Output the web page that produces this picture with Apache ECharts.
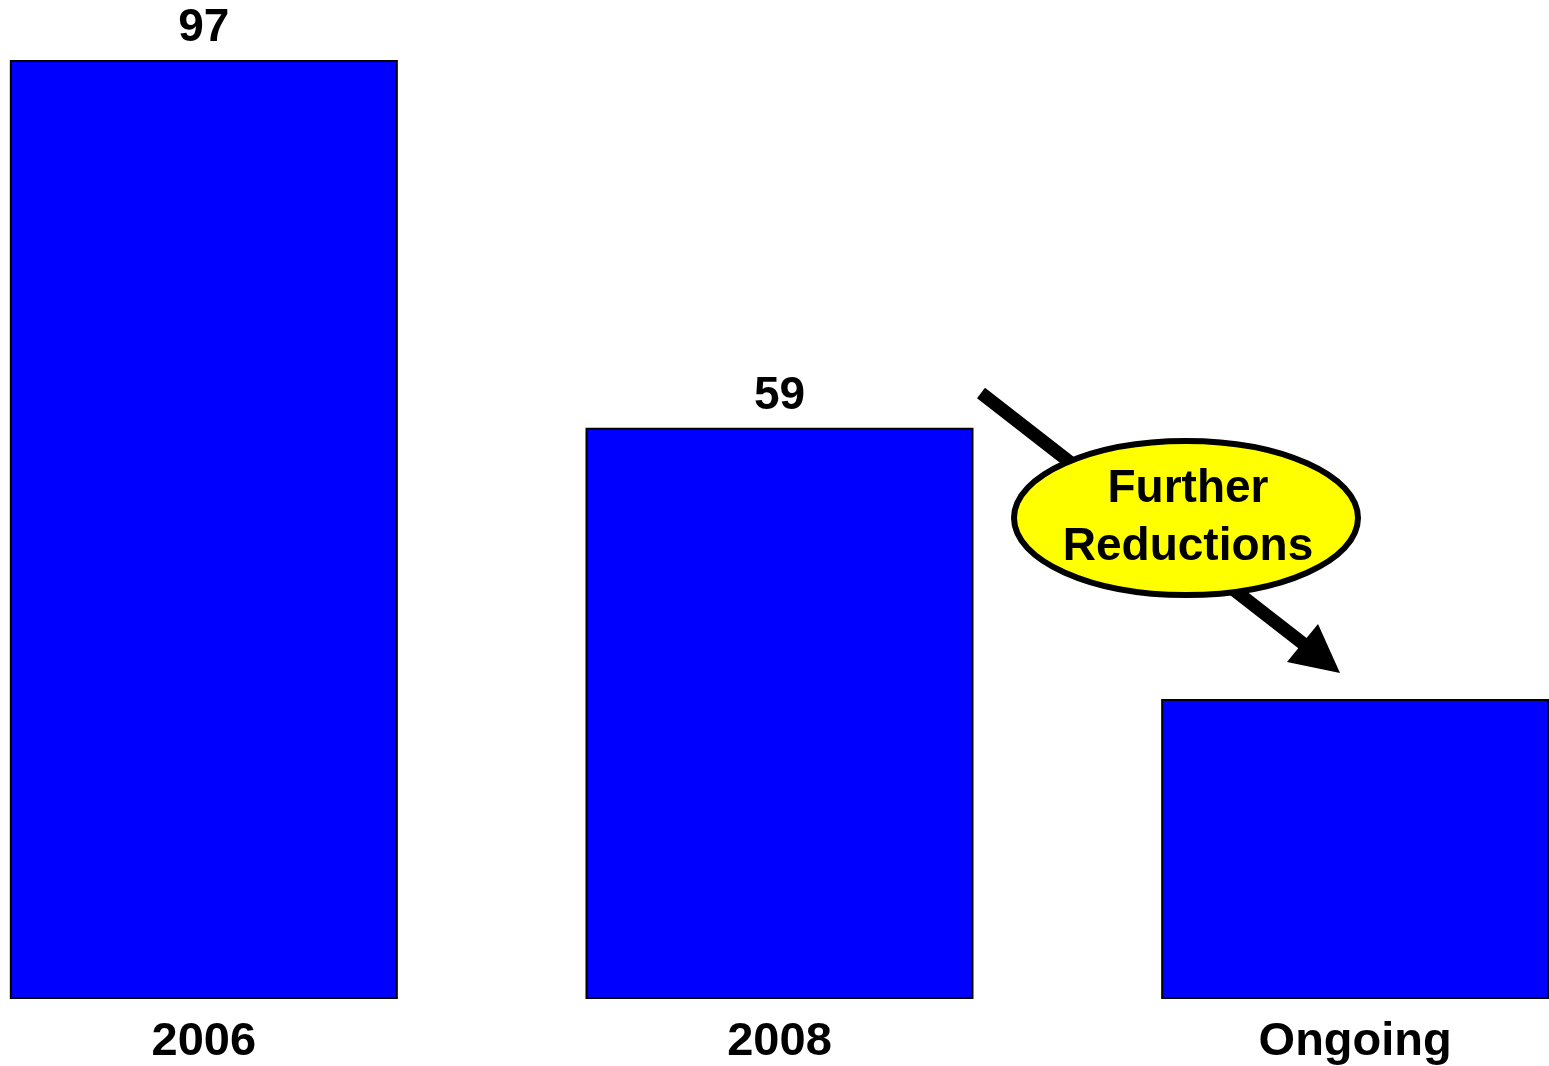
<!DOCTYPE html>
<html>
<head>
<meta charset="utf-8">
<title>Reductions</title>
<script src="https://cdn.jsdelivr.net/npm/echarts@6/dist/echarts.min.js"></script>
<style>
  html, body { margin: 0; padding: 0; background: #ffffff; }
  #chart { width: 1549px; height: 1066px; }
</style>
</head>
<body>
<div id="chart"></div>
<script>
// Categories and values
const categories = ['2006', '2008', 'Ongoing'];
const values = [97, 59, 31];
const showValueLabel = [true, true, false];
const calloutLines = ['Further', 'Reductions'];

const FONT = '"Liberation Sans", Arial, Helvetica, sans-serif';

const chart = echarts.init(document.getElementById('chart'), null, { renderer: 'canvas' });

const option = {
  backgroundColor: '#ffffff',
  animation: false,
  grid: {
    left: -84,
    width: 1727,
    top: 60,
    bottom: 67,
    containLabel: false,
    outerBoundsMode: 'none'
  },
  xAxis: {
    type: 'category',
    data: categories,
    axisLine: { show: false },
    axisTick: { show: false },
    splitLine: { show: false },
    axisLabel: {
      color: '#000000',
      fontFamily: FONT,
      fontWeight: 'bold',
      fontSize: 47,
      margin: 20
    }
  },
  yAxis: {
    type: 'value',
    min: 0,
    max: 97,
    show: false,
    splitLine: { show: false }
  },
  series: [{
    type: 'bar',
    barWidth: 388,
    data: values.map((v, i) => ({
      value: v,
      label: { show: showValueLabel[i] }
    })),
    itemStyle: {
      color: '#0000ff',
      borderColor: '#000000',
      borderWidth: 2
    },
    label: {
      position: 'top',
      distance: 9,
      color: '#000000',
      fontFamily: FONT,
      fontWeight: 'bold',
      fontSize: 46
    }
  }],
  graphic: [
    // arrow shaft
    {
      type: 'line',
      z: 10,
      shape: { x1: 981, y1: 393, x2: 1310, y2: 649 },
      style: { stroke: '#000000', lineWidth: 13 }
    },
    // arrow head
    {
      type: 'polygon',
      z: 10,
      shape: { points: [[1340, 673], [1287, 662], [1318, 624]] },
      style: { fill: '#000000' }
    },
    // callout bubble
    {
      type: 'ellipse',
      z: 11,
      shape: { cx: 1186, cy: 518, rx: 172, ry: 77 },
      style: { fill: '#ffff00', stroke: '#000000', lineWidth: 6 }
    },
    {
      type: 'text',
      z: 12,
      x: 1188,
      y: 518,
      style: {
        text: calloutLines.join('\n'),
        fill: '#000000',
        font: 'bold 46px ' + FONT,
        lineHeight: 58,
        align: 'center',
        verticalAlign: 'middle'
      }
    }
  ]
};

chart.setOption(option);
</script>
</body>
</html>
